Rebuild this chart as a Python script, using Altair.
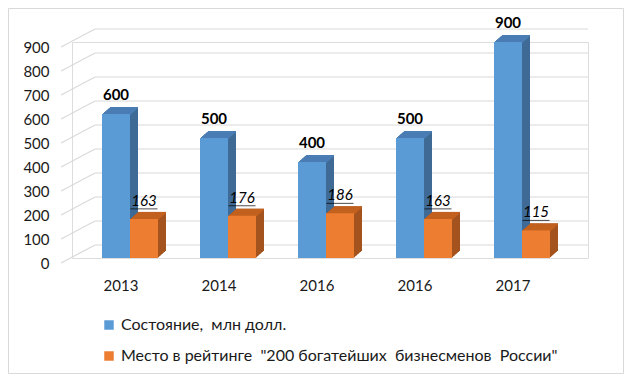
import json
import altair as alt
import pandas as pd

# ---- data ----
years = ["2013", "2014", "2016", "2016", "2017"]
wealth = [600, 500, 400, 500, 900]          # Состояние, млн долл.
rank = [163, 176, 186, 163, 115]            # Место в рейтинге
series_names = ["Состояние,\u00a0 млн долл.",
                "Место в рейтинге \u00a0\"200 богатейших\u00a0 бизнесменов\u00a0 России\""]
y_ticks = [0, 100, 200, 300, 400, 500, 600, 700, 800, 900]

# ---- style ----
FONT = "Lato"
TXT = "#1a1a1a"
FRONT = ["#5B9BD5", "#ED7D31"]
SIDE = ["#3E6A95", "#A4531E"]
TOP = ["#4A7DB4", "#C2611F"]
GRID = "#d9d9d9"
W, H = 516, 216
BAR_W = 28
DEPTH = 8          # bar extrusion steps (px)
DY = 0.875         # vertical px per extrusion step

idx = list(range(len(years)))
rows = []
for i in idx:
    rows.append({"i": i, "s": series_names[0], "k": 0, "v": wealth[i]})
    rows.append({"i": i, "s": series_names[1], "k": 1, "v": rank[i]})
df = pd.DataFrame(rows)
ticks_df = pd.DataFrame({"v": y_ticks})
one = pd.DataFrame({"a": [0]})

xscale = alt.Scale(domain=idx, range=[9, 499], paddingInner=0, paddingOuter=0)
yscale = alt.Scale(domain=[0, 900], nice=False, zero=True)
label_expr = json.dumps(years) + "[datum.value]"

x_axis = alt.Axis(title=None, labelExpr=label_expr, domain=False, ticks=False, tickSize=0,
                  labelFont=FONT, labelFontSize=15, labelColor=TXT, labelPadding=20,
                  labelOffset=-9, labelAngle=0, grid=False)
y_axis = alt.Axis(title=None, values=y_ticks, domain=False, ticks=False, tickSize=0,
                  labelFont=FONT, labelFontSize=15, labelColor=TXT, labelPadding=23,
                  labelOffset=5, grid=False)


def X():
    return alt.X("i:O", scale=xscale, axis=x_axis)


def Y(field="v:Q"):
    return alt.Y(field, scale=yscale, axis=y_axis, stack=None)


base = alt.Chart(df)
layers = []

# outer border
layers.append(alt.Chart(one).mark_rect(fillOpacity=0, stroke=GRID, strokeWidth=1).encode(
    x=alt.value(-63.5), x2=alt.value(W + 35.5), y=alt.value(-33.5), y2=alt.value(H + 115.5)))

# back-wall gridlines and side-wall diagonals
layers.append(alt.Chart(ticks_df).mark_rule(color=GRID, strokeWidth=1.2, yOffset=-13).encode(
    y=Y(), x=alt.value(23), x2=alt.value(W)))
layers.append(alt.Chart(ticks_df).mark_rule(color=GRID, strokeWidth=1.2, yOffset=5, y2Offset=-13).encode(
    y=Y(), y2=alt.Y2("v:Q"), x=alt.value(-11), x2=alt.value(23)))

for si in range(2):
    sub = base.transform_filter(alt.datum.k == si)
    off = -BAR_W / 2 if si == 0 else BAR_W / 2
    # side (extrusion) copies
    for k in range(1, DEPTH + 1):
        layers.append(sub.mark_bar(width=BAR_W, color=SIDE[si], xOffset=off + k,
                                   yOffset=-DY * k, y2Offset=-DY * k).encode(
            x=X(), y=Y(), y2=alt.datum(0)))
    # top face strips
    for k in range(1, DEPTH + 1):
        layers.append(sub.mark_bar(width=BAR_W, color=TOP[si], xOffset=off + k,
                                   yOffset=-DY * k, y2Offset=-DY * k + 1.6).encode(
            x=X(), y=Y(), y2=alt.Y2("v:Q")))
    # front face
    layers.append(sub.mark_bar(width=BAR_W, xOffset=off).encode(
        x=X(), y=Y(), y2=alt.datum(0),
        color=alt.Color("s:N", scale=alt.Scale(domain=series_names, range=FRONT),
                        legend=alt.Legend(title=None, orient="none", legendX=29, legendY=275,
                                          direction="vertical", symbolType="square",
                                          symbolSize=90, symbolStrokeWidth=0,
                                          labelFont=FONT, labelFontSize=16, labelColor=TXT,
                                          labelLimit=0, rowPadding=15, padding=0))))

# value labels
layers.append(base.transform_filter(alt.datum.k == 0).mark_text(
    dx=-BAR_W / 2, dy=-14, baseline="alphabetic", font=FONT, fontSize=15,
    fontWeight="bold", color="#000000").encode(x=X(), y=Y(), text="v:Q"))
layers.append(base.transform_filter(alt.datum.k == 1).mark_text(
    dx=BAR_W / 2, dy=-13, baseline="alphabetic", font=FONT, fontSize=15,
    fontStyle="italic", color="#000000").encode(x=X(), y=Y(), text="v:Q"))
layers.append(base.transform_filter(alt.datum.k == 1).mark_tick(
    orient="horizontal", size=27, thickness=1, xOffset=BAR_W / 2, yOffset=-10,
    color="#000000").encode(x=X(), y=Y()))

chart = alt.layer(*layers).properties(
    width=W, height=H,
    padding={"left": 64, "top": 34, "right": 36, "bottom": 116},
    autosize="none",
).configure_view(stroke=None).configure(background="white")

chart.save("out.html", embed_options={"renderer": "svg", "actions": False})
